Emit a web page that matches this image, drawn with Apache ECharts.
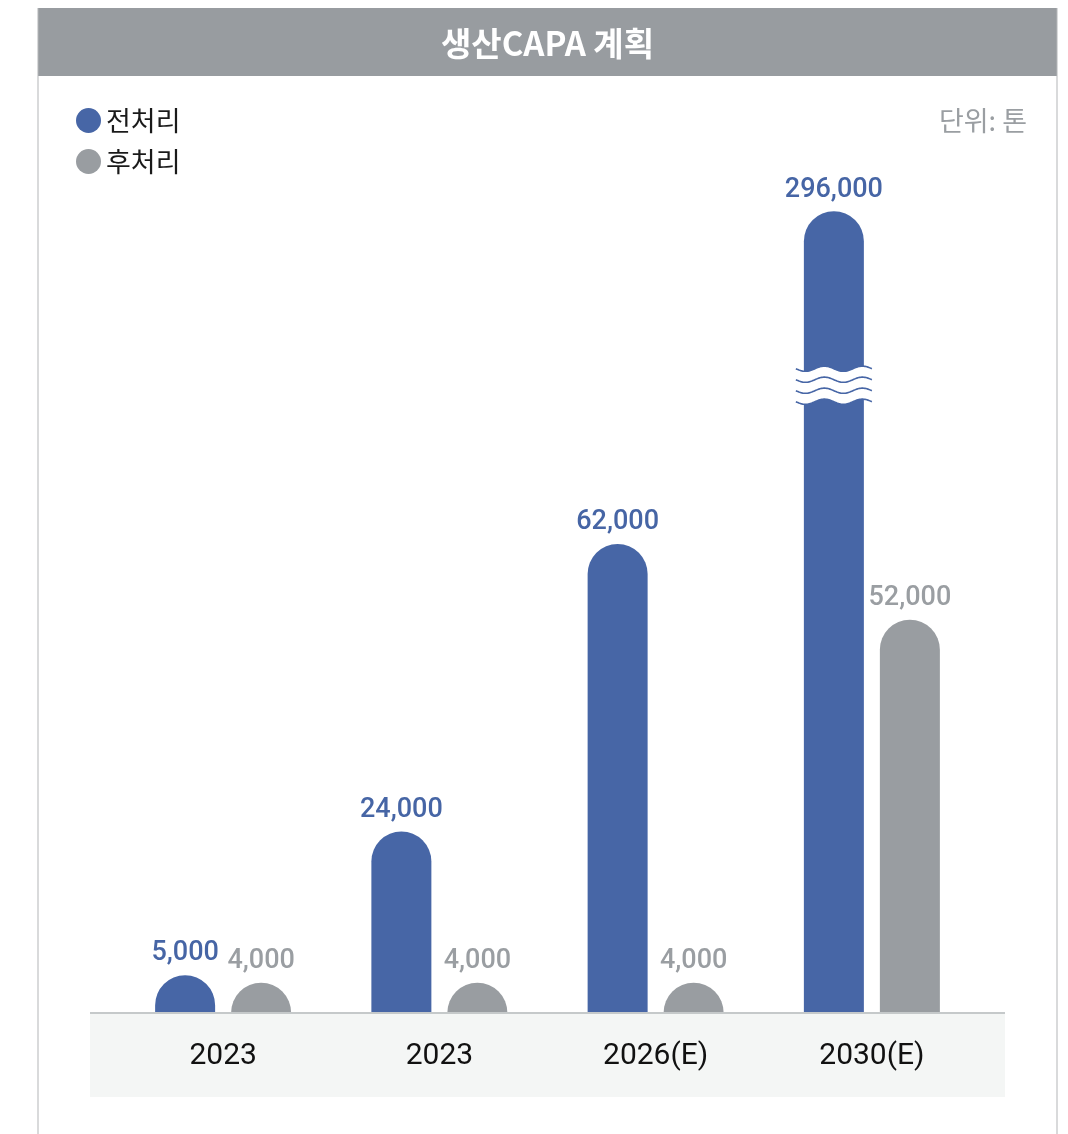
<!DOCTYPE html>
<html><head><meta charset="utf-8">
<script src="https://cdn.jsdelivr.net/npm/echarts@6/dist/echarts.min.js"></script>
<style>html,body{margin:0;padding:0;background:#fff}#c{width:1068px;height:1134px}</style>
</head><body><div id="c"></div>
<script>
const categories = ['2023', '2023', '2026(E)', '2030(E)'];
const preValues = [5000, 24000, 62000, 296000];   // 전처리
const postValues = [4000, 4000, 4000, 52000];     // 후처리
const seriesNames = ['전처리', '후처리'];
const titleText = '생산CAPA 계획';
const unitText = '단위: 톤';

// broken axis: values above breakAt are shortened by breakSkip
const breakAt = 83000;
const breakSkip = 190000;
const shown = v => v > breakAt + breakSkip ? v - breakSkip : v;

const BLUE = '#4766a6', GREY = '#999da1';
const fmt = v => v.toLocaleString('en-US');
const NUM_FONT = 'Roboto, "Noto Sans CJK KR", sans-serif';
const KR_FONT = '"Noto Sans CJK KR", "Noto Sans", sans-serif';

const chart = echarts.init(document.getElementById('c'), null, {renderer: 'canvas'});

const baseGraphic = [
  {type: 'rect', id: 'titleBar', shape: {x: 38, y: 8, width: 1019, height: 68}, style: {fill: '#989ca0'}, z: 0},
  {type: 'text', id: 'titleText', x: 547.5, y: 43, style: {text: titleText, fill: '#fff', fontSize: 33, fontWeight: 'bold', fontFamily: KR_FONT, align: 'center', verticalAlign: 'middle'}, z: 5},
  {type: 'rect', id: 'lb', shape: {x: 37.5, y: 8, width: 1, height: 1130}, style: {fill: '#b4b6b8'}, z: 0},
  {type: 'rect', id: 'rb', shape: {x: 1056.5, y: 8, width: 1, height: 1130}, style: {fill: '#b4b6b8'}, z: 0},
  {type: 'rect', id: 'axisBg', shape: {x: 90, y: 1013, width: 915, height: 84}, style: {fill: '#f4f6f5'}, z: 0},
  {type: 'rect', id: 'axisLine', shape: {x: 90, y: 1012, width: 915, height: 2}, style: {fill: '#c5c9ca'}, z: 10},
  {type: 'text', id: 'unit', x: 1027, y: 121, style: {text: unitText, fill: '#9a9ea2', fontSize: 27, fontFamily: KR_FONT, align: 'right', verticalAlign: 'middle'}, z: 10}
];

const option = {
  animation: false,
  legend: {
    data: seriesNames, orient: 'vertical', left: 71, top: 102,
    icon: 'circle', itemWidth: 25, itemHeight: 25, itemGap: 14,
    textStyle: {fontSize: 27, color: '#1a1a1a', fontFamily: KR_FONT}
  },
  grid: {left: 115, right: 88, top: 181, bottom: 121, containLabel: false},
  xAxis: {
    type: 'category', data: categories,
    axisLine: {show: false}, axisTick: {show: false},
    axisLabel: {fontSize: 30, color: '#111', margin: 28, fontFamily: NUM_FONT}
  },
  yAxis: {type: 'value', min: 0, max: 110000, show: false, splitLine: {show: false}},
  series: [
    {
      name: seriesNames[0], type: 'bar', barWidth: 60, barGap: '26.67%',
      data: preValues.map(shown),
      itemStyle: {color: BLUE, borderRadius: [30, 30, 0, 0]},
      label: {show: true, position: 'top', distance: 8, color: '#4665a5', fontSize: 27, fontWeight: 500,
        fontFamily: NUM_FONT, formatter: p => fmt(preValues[p.dataIndex])}
    },
    {
      name: seriesNames[1], type: 'bar', barWidth: 60,
      data: postValues.map(shown),
      itemStyle: {color: GREY, borderRadius: [30, 30, 0, 0]},
      label: {show: true, position: 'top', distance: 8, color: '#9a9ea2', fontSize: 27, fontWeight: 500,
        fontFamily: NUM_FONT, formatter: p => fmt(postValues[p.dataIndex])}
    }
  ],
  color: [BLUE, GREY],
  graphic: baseGraphic
};
chart.setOption(option);

// draw wavy break marks on bars that exceed the break
const waves = [];
preValues.forEach((v, i) => {
  if (v <= breakAt + breakSkip) return;
  const c = chart.convertToPixel({seriesIndex: 0}, [i, breakAt]);
  const cx = c[0] - 38, cy = c[1];
  const x0 = cx - 38, x1 = cx + 38;
  const A = 2.6, P = 38;
  const wave = (yc) => {
    const pts = [];
    for (let x = x0; x <= x1 + 0.01; x += 1) pts.push([x, yc + A * Math.sin(2 * Math.PI * (x - x0) / P)]);
    return pts;
  };
  const offs = [-16.5, -5.5, 5.5, 16.5];
  const top = wave(cy + offs[0]), bot = wave(cy + offs[3]);
  waves.push({type: 'polygon', shape: {points: top.concat(bot.slice().reverse())}, style: {fill: '#fff'}, z: 20});
  offs.forEach((o, k) => {
    waves.push({type: 'polyline', shape: {points: wave(cy + o)}, style: {stroke: BLUE, lineWidth: 1.6, fill: null}, z: 21});
  });
});
chart.setOption({graphic: baseGraphic.concat(waves)}, {replaceMerge: ['graphic']});
</script></body></html>
